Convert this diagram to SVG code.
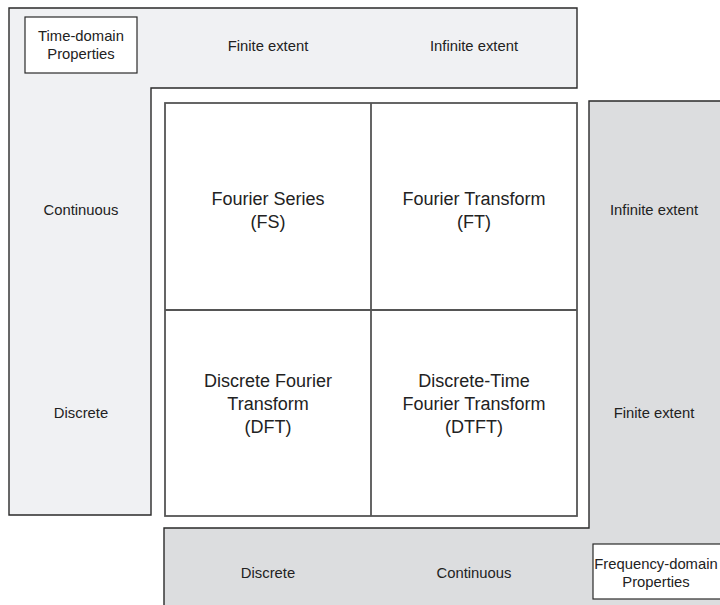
<svg xmlns="http://www.w3.org/2000/svg" width="720" height="605" viewBox="0 0 720 605">
<style>
.lt{fill:#f0f1f3;stroke:#2a2a2a;stroke-width:1.4}
.dk{fill:#dcdddf;stroke:#2a2a2a;stroke-width:1.4}
.box{fill:#ffffff;stroke:#2a2a2a;stroke-width:1.2}
.grid{fill:#ffffff;stroke:#555;stroke-width:1.8}
.div{stroke:#555;stroke-width:1.8}
text{font-family:"Liberation Sans",Arial,sans-serif;fill:#222;text-anchor:middle}
.s{font-size:14.8px}
.b{font-size:18px}
</style>
<g id="time-domain-band">
<polygon class="lt" points="9,8 577,8 577,88 151,88 151,515 9,515"/>
</g>
<g id="frequency-domain-band">
<polygon class="dk" points="589,101 730,101 730,615 164,615 164,528 589,528"/>
</g>
<g id="grid">
<rect class="grid" x="165" y="103" width="412" height="413"/>
</g>
<g id="connectors">
<line class="div" x1="371" y1="103" x2="371" y2="516"/>
<line class="div" x1="165" y1="310" x2="577" y2="310"/>
</g>
<g id="time-domain-label">
<rect class="box" x="25" y="17" width="112" height="56"/>
<text class="s" x="81" y="41">Time-domain</text>
<text class="s" x="81" y="59">Properties</text>
</g>
<g id="freq-domain-label">
<rect class="box" x="593" y="544" width="140" height="55"/>
<text class="s" x="656" y="569">Frequency-domain</text>
<text class="s" x="656" y="587">Properties</text>
</g>
<g id="time-axis-labels">
<text class="s" x="268" y="51">Finite extent</text>
<text class="s" x="474" y="51">Infinite extent</text>
<text class="s" x="81" y="215">Continuous</text>
<text class="s" x="81" y="418">Discrete</text>
</g>
<g id="freq-axis-labels">
<text class="s" x="654" y="215">Infinite extent</text>
<text class="s" x="654" y="418">Finite extent</text>
<text class="s" x="268" y="578">Discrete</text>
<text class="s" x="474" y="578">Continuous</text>
</g>
<g id="fs">
<text class="b" x="268" y="205">Fourier Series</text>
<text class="b" x="268" y="228">(FS)</text>
</g>
<g id="ft">
<text class="b" x="474" y="205">Fourier Transform</text>
<text class="b" x="474" y="228">(FT)</text>
</g>
<g id="dft">
<text class="b" x="268" y="387">Discrete Fourier</text>
<text class="b" x="268" y="410">Transform</text>
<text class="b" x="268" y="433">(DFT)</text>
</g>
<g id="dtft">
<text class="b" x="474" y="387">Discrete-Time</text>
<text class="b" x="474" y="410">Fourier Transform</text>
<text class="b" x="474" y="433">(DTFT)</text>
</g>
</svg>
